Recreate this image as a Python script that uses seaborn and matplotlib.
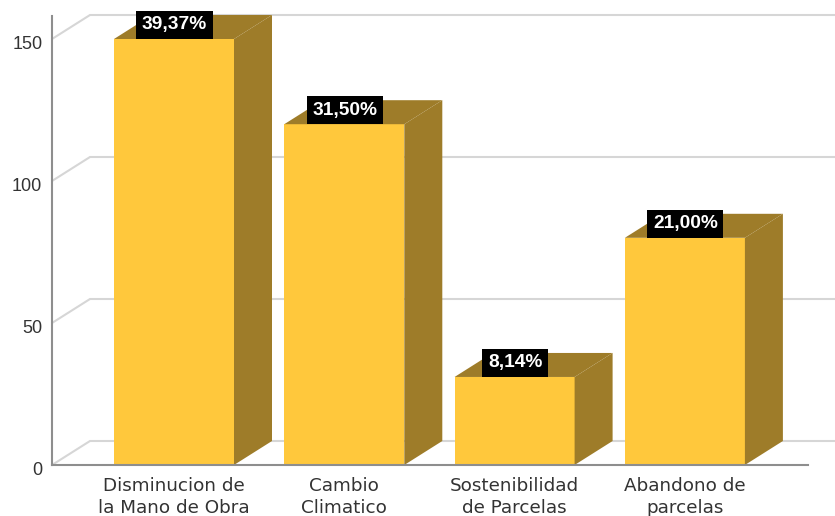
import matplotlib
matplotlib.use("Agg")
import matplotlib.pyplot as plt
import matplotlib.transforms as mtrans
import seaborn as sns
import pandas as pd
from matplotlib.patches import Polygon

categories = ["Disminucion de\nla Mano de Obra", "Cambio\nClimatico",
              "Sostenibilidad\nde Parcelas", "Abandono de\nparcelas"]
counts = [150, 120, 31, 80]
percent_labels = ["39,37%", "31,50%", "8,14%", "21,00%"]
y_ticks = [0, 50, 100, 150]

FRONT = "#FFC83C"
DARK = "#9E7C29"
GRID = "#D6D6D6"
AXIS = "#8E8E8E"
TEXT = "#333333"

W, H = 835, 516
PX_X = 170.3      # pixels per category
PX_Y = 2.84       # pixels per count
CX0 = 174.0       # pixel centre of the first bar
DX = 38 / PX_X    # depth of the fake 3D box, data units
DY = 24 / PX_Y

sns.set_theme(style="white")
fig = plt.figure(figsize=(W / 100, H / 100), dpi=100, facecolor="white")
ax = fig.add_axes([52 / W, (H - 465) / H, (W - 52) / W, 465 / H])

df = pd.DataFrame({"category": categories, "count": counts})
sns.barplot(data=df, x="category", y="count", color=FRONT, saturation=1,
            width=120 / PX_X, ax=ax, zorder=3, linewidth=0, edgecolor="none")

ax.set_xlim((52 - CX0) / PX_X, (835 - CX0) / PX_X)
ax.set_ylim(0, 465 / PX_Y)
left = (52 - CX0) / PX_X
right_end = (808 - CX0) / PX_X

for t in y_ticks:
    ax.plot([left, left + DX, ax.get_xlim()[1]], [t, t + DY, t + DY],
            color=GRID, lw=1.5, zorder=1, clip_on=False, solid_joinstyle="miter")

for patch in ax.patches:
    if patch.get_height() <= 0:
        continue
    x0, w, h = patch.get_x(), patch.get_width(), patch.get_height()
    x1 = x0 + w
    ax.add_patch(Polygon([(x1, 0), (x1 + DX, DY), (x1 + DX, h + DY), (x1, h)],
                         closed=True, fc=DARK, ec="none", zorder=3, clip_on=False))
    ax.add_patch(Polygon([(x0, h), (x0 + DX, h + DY), (x1 + DX, h + DY), (x1, h)],
                         closed=True, fc=DARK, ec="none", zorder=3, clip_on=False))

for i, (v, lab) in enumerate(zip(counts, percent_labels)):
    ax.annotate(lab, (i, v), xytext=(0.4, 4.0), textcoords="offset points",
                ha="center", va="bottom", color="white", fontsize=13.8,
                family="Liberation Sans", fontweight="bold", zorder=5,
                bbox=dict(boxstyle="square,pad=0.29", fc="black", ec="none"),
                annotation_clip=False)

for s in ["top", "right"]:
    ax.spines[s].set_visible(False)
for s in ["left", "bottom"]:
    ax.spines[s].set_color(AXIS)
    ax.spines[s].set_linewidth(1.5)
    ax.spines[s].set_zorder(4)
ax.spines["left"].set_bounds(0, 158)
ax.spines["bottom"].set_bounds(left, right_end)

ax.set_xlabel("")
ax.set_ylabel("")
ax.set_yticks(y_ticks)
ax.tick_params(axis="both", length=0)
ax.tick_params(axis="x", pad=8.5, labelcolor=TEXT)
ax.tick_params(axis="y", pad=7, labelcolor=TEXT)
for l in ax.get_xticklabels():
    l.set_family("DejaVu Sans")
    l.set_fontsize(13.2)
    l.set_linespacing(1.28)
shift = mtrans.ScaledTranslation(0, -3.8 / 100, fig.dpi_scale_trans)
for l in ax.get_yticklabels():
    l.set_family("Liberation Sans")
    l.set_fontsize(13)
    l.set_transform(l.get_transform() + shift)

fig.savefig("out.png", dpi=100, facecolor="white")
